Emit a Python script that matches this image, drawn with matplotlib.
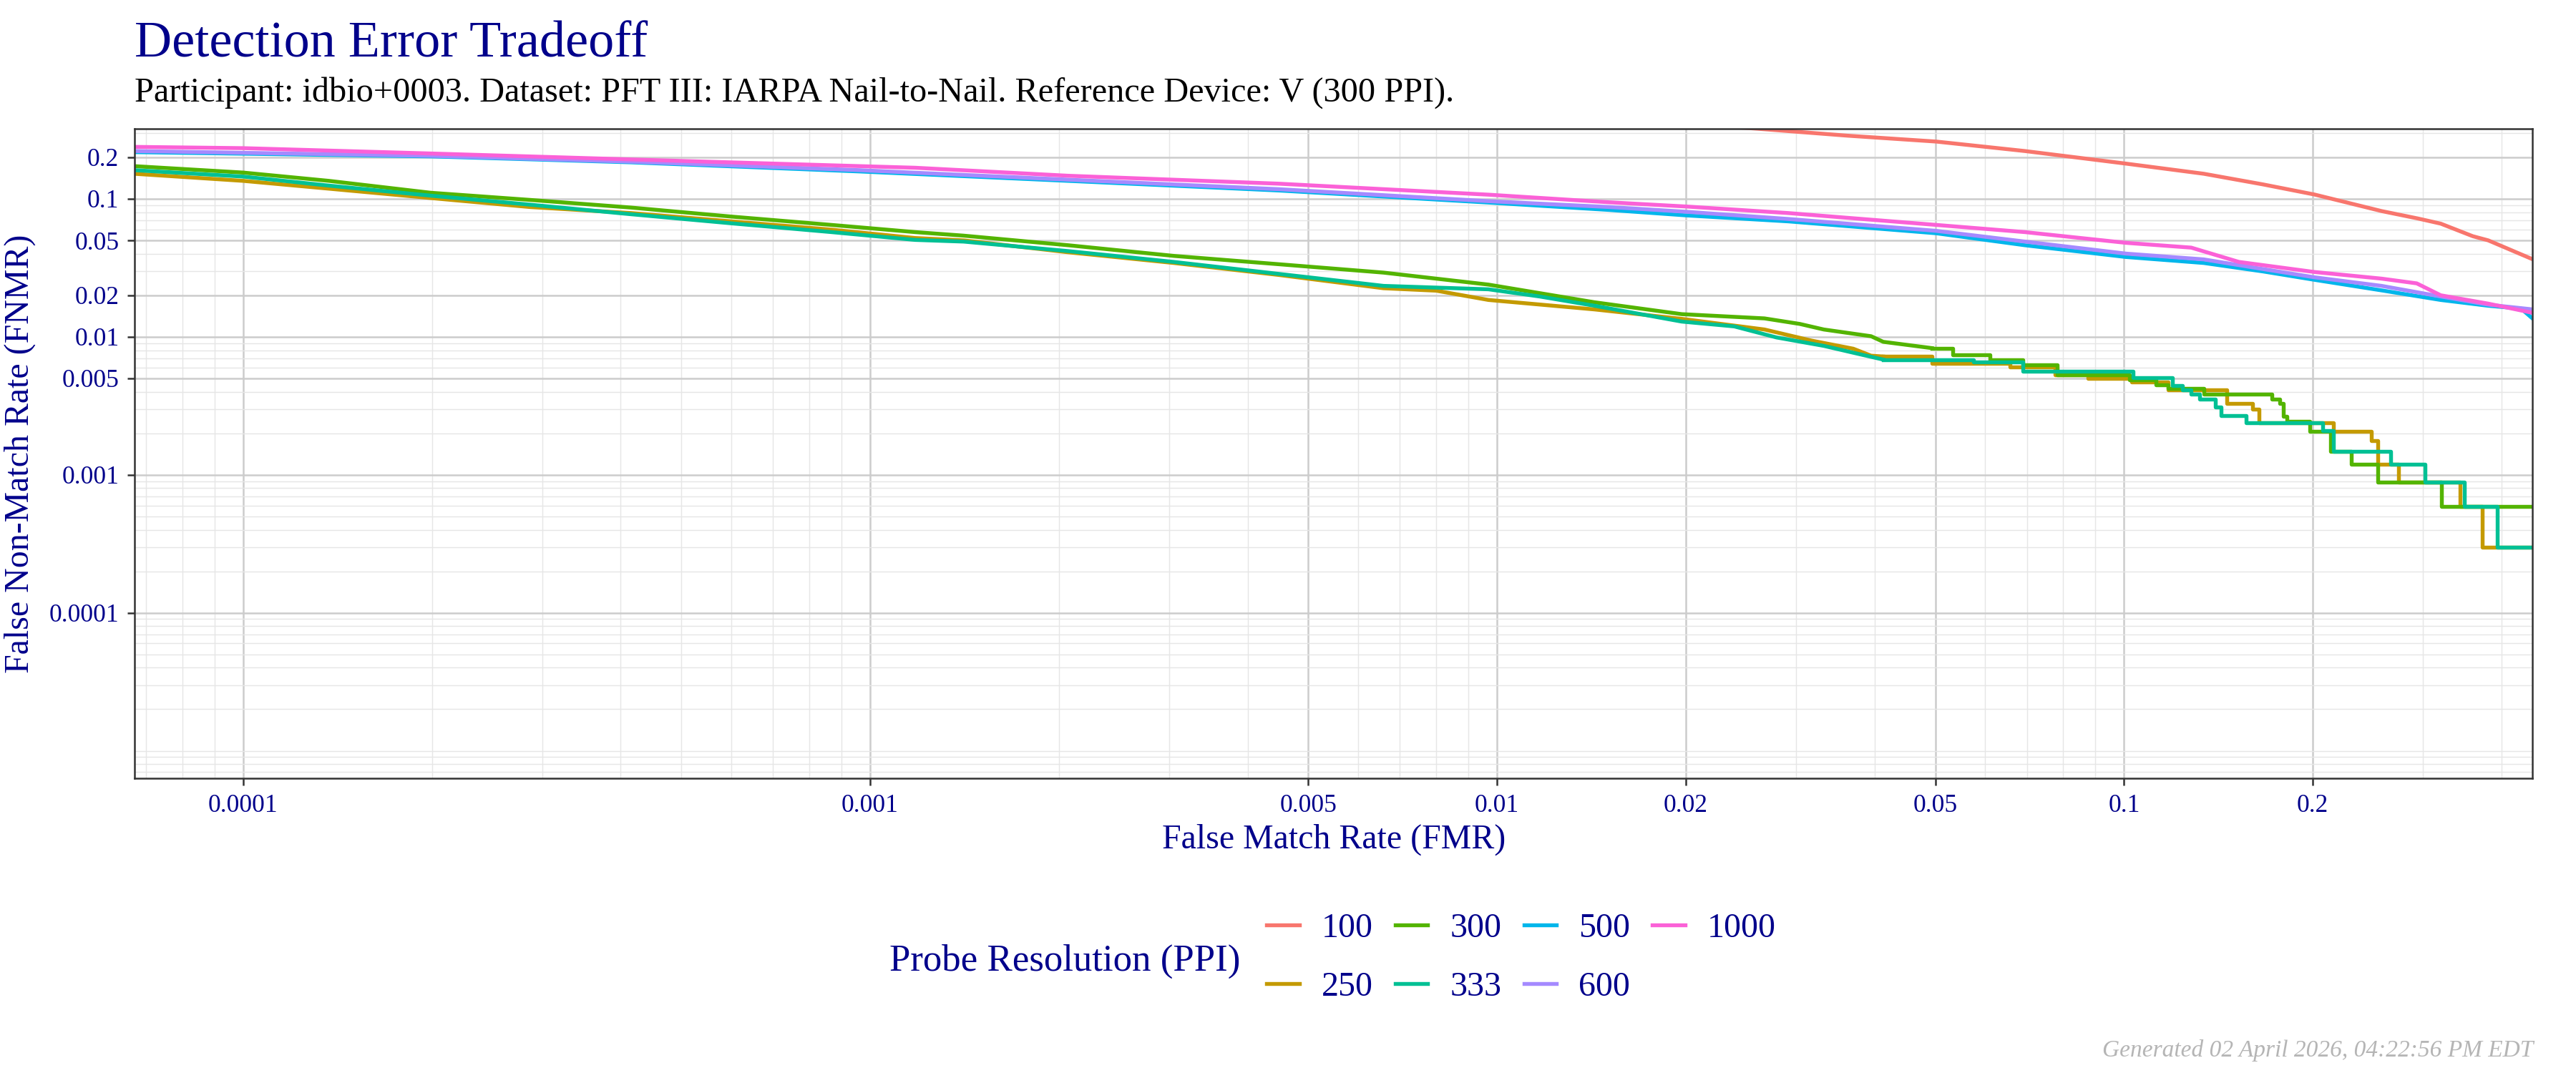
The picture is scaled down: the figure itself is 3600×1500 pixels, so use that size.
import numpy as np
import matplotlib
matplotlib.use("Agg")
import matplotlib.pyplot as plt
from matplotlib.ticker import LogLocator, FixedLocator, FixedFormatter, NullFormatter

plt.rcParams['font.family'] = ['Liberation Serif', 'DejaVu Serif']

NAVY = '#00008B'

# probe resolutions (legend order) and ggplot hue colours
ppi_levels = ['100', '250', '300', '333', '500', '600', '1000']
ppi_colors = ['#F8766D', '#C49A00', '#53B400', '#00C094', '#00B6EB', '#A58AFF', '#FB61D7']

# --- DET curves (FMR, FNMR) ---
fmr_100 = [0.020, 0.0261, 0.0362, 0.0502, 0.0695, 0.1007, 0.134, 0.1665, 0.2012, 0.2576, 0.294, 0.320, 0.360, 0.381, 0.449]
fnmr_100 = [0.35, 0.322, 0.287, 0.260, 0.222, 0.180, 0.152, 0.1273, 0.1075, 0.0815, 0.0721, 0.0661, 0.0536, 0.0500, 0.0364]

fmr_1000 = [6.7e-5, 1.0e-4, 2.0e-4, 4.15e-4, 1.18e-3, 2.07e-3, 4.48e-3, 9.69e-3, 1.51e-2, 2.01e-2, 2.91e-2, 5.02e-2,
            6.95e-2, 0.1007, 0.128, 0.1525, 0.2012, 0.2576, 0.293, 0.320, 0.381, 0.449]
fnmr_1000 = [0.238, 0.233, 0.213, 0.193, 0.168, 0.147, 0.1288, 0.1072, 0.0944, 0.0879, 0.0789, 0.0647,
             0.0574, 0.0480, 0.0443, 0.0349, 0.0295, 0.0264, 0.0244, 0.0200, 0.0174, 0.0149]

fmr_600 = [6.7e-5, 2.0e-4, 4.15e-4, 9.6e-4, 2.07e-3, 4.48e-3, 9.69e-3, 1.51e-2, 2.01e-2, 2.91e-2, 5.02e-2, 6.95e-2,
           0.1007, 0.134, 0.1665, 0.2012, 0.2576, 0.320, 0.381, 0.449]
fnmr_600 = [0.222, 0.205, 0.186, 0.1614, 0.1377, 0.1175, 0.0962, 0.0872, 0.0805, 0.0715, 0.0586, 0.0490,
            0.0401, 0.0364, 0.0310, 0.0270, 0.0234, 0.0196, 0.0171, 0.0158]

fmr_500 = [6.7e-5, 2.0e-4, 4.15e-4, 9.6e-4, 2.07e-3, 4.48e-3, 9.69e-3, 1.51e-2, 2.01e-2, 2.91e-2, 5.02e-2, 6.95e-2,
           0.1007, 0.134, 0.1665, 0.2012, 0.2576, 0.320, 0.381, 0.430, 0.449]
fnmr_500 = [0.218, 0.203, 0.184, 0.158, 0.135, 0.115, 0.094, 0.0831, 0.0758, 0.0687, 0.0563, 0.0461,
            0.0379, 0.0343, 0.0298, 0.0259, 0.0217, 0.0185, 0.0168, 0.0160, 0.0135]

# lower curves: smooth part, then the coarse staircase at high FMR
fmr_300 = [6.7e-5, 1.0e-4, 1.37e-4, 1.99e-4, 2.87e-4, 4.15e-4, 6.0e-4, 8.68e-4, 1.18e-3, 1.41e-3, 2.07e-3, 3.05e-3,
           4.48e-3, 6.59e-3, 9.69e-3, 1.43e-2, 1.97e-2, 0.0267, 0.0304, 0.0332, 0.0395, 0.0413, 0.0494]
fnmr_300 = [0.1726, 0.155, 0.135, 0.1107, 0.0982, 0.0865, 0.0744, 0.0647, 0.0574, 0.0541, 0.0461, 0.0386,
            0.0336, 0.0292, 0.0239, 0.0178, 0.0146, 0.0136, 0.0124, 0.0113, 0.0101, 0.0092, 0.00828]
fmr_300_steps = [0.0494, 0.0533, 0.0611, 0.0689, 0.0783, 0.102, 0.1125, 0.1177, 0.134, 0.172, 0.177, 0.1796,
                 0.182, 0.1977, 0.2133, 0.2303, 0.254, 0.321, 0.449]
fnmr_300_steps = [0.00828, 0.0074, 0.00684, 0.0063, 0.00528, 0.00488, 0.0045, 0.00425, 0.00384, 0.00355, 0.00328,
                  0.00264, 0.00243, 0.00206, 0.00148, 0.00119, 0.00089, 0.00059, 0.00059]

fmr_333 = [6.7e-5, 1.0e-4, 1.37e-4, 1.99e-4, 2.87e-4, 4.15e-4, 6.0e-4, 8.68e-4, 1.18e-3, 1.41e-3, 2.07e-3, 3.05e-3,
           4.48e-3, 6.59e-3, 9.69e-3, 1.17e-2, 1.43e-2, 1.97e-2, 0.0239, 0.0279, 0.0332, 0.0378, 0.0413]
fnmr_333 = [0.1614, 0.145, 0.1247, 0.1055, 0.0907, 0.0774, 0.0665, 0.0574, 0.0504, 0.0490, 0.0418, 0.0349,
            0.0286, 0.0234, 0.0221, 0.0196, 0.0168, 0.0129, 0.0119, 0.0099, 0.0086, 0.0075, 0.00684]
fmr_333_steps = [0.0413, 0.0576, 0.0689, 0.1035, 0.1195, 0.124, 0.128, 0.132, 0.140, 0.143, 0.1567, 0.2075,
                 0.2155, 0.266, 0.302, 0.349, 0.394, 0.449]
fnmr_333_steps = [0.00684, 0.00658, 0.0056, 0.00508, 0.00442, 0.00414, 0.00384, 0.00355, 0.0031, 0.00269, 0.00238,
                  0.00208, 0.00148, 0.00119, 0.00089, 0.00059, 0.000298, 0.000298]

fmr_250 = [6.7e-5, 1.0e-4, 1.37e-4, 1.99e-4, 2.87e-4, 4.15e-4, 6.0e-4, 8.68e-4, 1.18e-3, 1.41e-3, 2.07e-3, 3.05e-3,
           4.48e-3, 6.59e-3, 8.0e-3, 9.69e-3, 1.43e-2, 1.97e-2, 0.0267, 0.0317, 0.0370, 0.0395, 0.0413]
fnmr_250 = [0.152, 0.135, 0.1185, 0.1014, 0.0872, 0.0789, 0.0687, 0.0598, 0.0520, 0.0500, 0.0410, 0.0343,
            0.0281, 0.0225, 0.0216, 0.0185, 0.0158, 0.0135, 0.0113, 0.0094, 0.0082, 0.0073, 0.0072]
fmr_250_steps = [0.0413, 0.0494, 0.0658, 0.0777, 0.0877, 0.1028, 0.1177, 0.1457, 0.1604, 0.164, 0.2155, 0.2483,
                 0.254, 0.2743, 0.344, 0.373, 0.449]
fnmr_250_steps = [0.0072, 0.00644, 0.00607, 0.00528, 0.0050, 0.0047, 0.00414, 0.00328, 0.0030, 0.00238, 0.00206,
                  0.00177, 0.00119, 0.00089, 0.00059, 0.000298, 0.000298]

curves = {
    '100': (fmr_100, fnmr_100, None, None),
    '250': (fmr_250, fnmr_250, fmr_250_steps, fnmr_250_steps),
    '300': (fmr_300, fnmr_300, fmr_300_steps, fnmr_300_steps),
    '333': (fmr_333, fnmr_333, fmr_333_steps, fnmr_333_steps),
    '500': (fmr_500, fnmr_500, None, None),
    '600': (fmr_600, fnmr_600, None, None),
    '1000': (fmr_1000, fnmr_1000, None, None),
}

tick_vals = [0.0001, 0.001, 0.005, 0.01, 0.02, 0.05, 0.1, 0.2]
tick_labels = ['0.0001', '0.001', '0.005', '0.01', '0.02', '0.05', '0.1', '0.2']

W, H = 3600, 1500
fig = plt.figure(figsize=(12, 5), dpi=300)
ax = fig.add_axes([188 / W, 1 - 1088 / H, (3539 - 188) / W, (1088 - 180) / H])

handles = []
for lvl, col in zip(ppi_levels, ppi_colors):
    x, y, xs, ys = curves[lvl]
    h, = ax.plot(x, y, color=col, lw=1.3, solid_joinstyle='round', label=lvl)
    if xs is not None:
        ax.step(xs, ys, where='post', color=col, lw=1.3)
    handles.append(h)

ax.set_xscale('log')
ax.set_yscale('log')
ax.set_xlim(6.71e-5, 0.448)
ax.set_ylim(6.32e-6, 0.322)

for axis in (ax.xaxis, ax.yaxis):
    axis.set_major_locator(FixedLocator(tick_vals))
    axis.set_major_formatter(FixedFormatter(tick_labels))
    axis.set_minor_locator(LogLocator(base=10, subs=np.arange(1, 10) * 1.0, numticks=100))
    axis.set_minor_formatter(NullFormatter())

ax.set_axisbelow(True)
ax.grid(which='minor', color='#E6E6E6', lw=0.35)
ax.grid(which='major', color='#CCCCCC', lw=0.6)
ax.tick_params(which='minor', length=0)
ax.tick_params(which='major', length=2.4, width=0.6, color='#333333', labelcolor=NAVY, labelsize=8.5, pad=2.8)
for s in ax.spines.values():
    s.set_color('#333333')
    s.set_linewidth(0.6)

# titles and axis labels
fig.text(188 / W, 1 - 79 / H, 'Detection Error Tradeoff', color=NAVY, fontsize=17.3, va='baseline', ha='left')
fig.text(188 / W, 1 - 142 / H,
         'Participant: idbio+0003. Dataset: PFT III: IARPA Nail-to-Nail. Reference Device: V (300 PPI).',
         color='black', fontsize=11.6, va='baseline', ha='left')
fig.text(1864 / W, 1 - 1186 / H, 'False Match Rate (FMR)', color=NAVY, fontsize=11.5, va='baseline', ha='center')
fig.text(28 / W, 1 - 634 / H, 'False Non-Match Rate (FNMR)', color=NAVY, fontsize=11.5,
         rotation=90, va='center', ha='center')

# legend, title on the left
fig.text(1243 / W, 1 - 1357 / H, 'Probe Resolution (PPI)', color=NAVY, fontsize=12.7, va='baseline', ha='left')
leg = fig.legend(handles, ppi_levels, ncol=4, loc='center left', bbox_to_anchor=(1770 / W, 1 - 1339 / H),
                 frameon=False, borderpad=0, borderaxespad=0, fontsize=11.5, labelcolor=NAVY,
                 handlelength=0.95, handletextpad=0.65, columnspacing=0.65, labelspacing=0.8)
for lh in leg.get_lines():
    lh.set_linewidth(1.3)

fig.text(3540 / W, 1 - 1477 / H, 'Generated 02 April 2026, 04:22:56 PM EDT', color='#B5B5B5',
         fontsize=8.0, style='italic', va='baseline', ha='right')

fig.savefig('out.png', dpi=300, facecolor='white')
